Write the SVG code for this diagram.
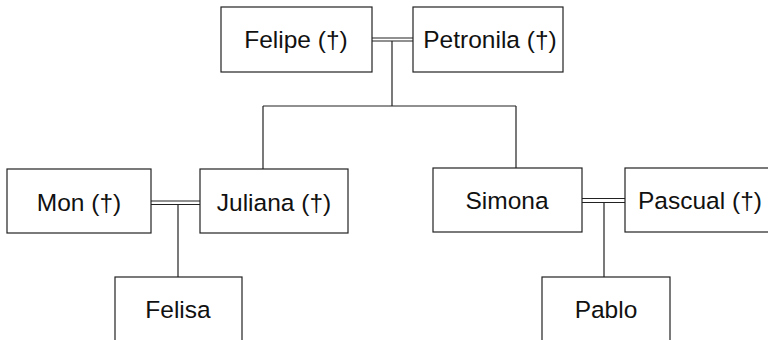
<svg xmlns="http://www.w3.org/2000/svg" width="768" height="340" viewBox="0 0 768 340">
<style>
.box{fill:#fff;stroke:#222;stroke-width:1.2}
.lbl{font-family:"Liberation Sans",Arial,sans-serif;font-size:24.5px;fill:#111;text-anchor:middle}
.ln{fill:none;stroke:#222;stroke-width:1.2}
</style>
<rect width="768" height="340" fill="#fff"/>
<g id="connectors">
<path class="ln" d="M372 38H413M372 41H413M392 41V106M263 106H516M263 106V169M516 106V168"/>
<path class="ln" d="M151 201H200M151 204.5H200M178 204.5V277"/>
<path class="ln" d="M582 198.5H625M582 202.5H625M604 202.5V277"/>
</g>
<g id="felipe"><rect class="box" x="221" y="7" width="151" height="65"/><text class="lbl" x="296" y="48">Felipe (†)</text></g>
<g id="petronila"><rect class="box" x="413" y="7" width="150" height="65"/><text class="lbl" x="490" y="48">Petronila (†)</text></g>
<g id="mon"><rect class="box" x="7" y="169" width="144" height="64"/><text class="lbl" x="79" y="211">Mon (†)</text></g>
<g id="juliana"><rect class="box" x="200" y="169" width="148" height="64"/><text class="lbl" x="274" y="211">Juliana (†)</text></g>
<g id="simona"><rect class="box" x="433" y="168" width="149" height="64"/><text class="lbl" x="507" y="209">Simona</text></g>
<g id="pascual"><rect class="box" x="625" y="168" width="146" height="64"/><text class="lbl" x="700" y="209">Pascual (†)</text></g>
<g id="felisa"><rect class="box" x="115" y="277" width="127" height="70"/><text class="lbl" x="178" y="318">Felisa</text></g>
<g id="pablo"><rect class="box" x="542" y="277" width="128" height="70"/><text class="lbl" x="606" y="318">Pablo</text></g>
</svg>
